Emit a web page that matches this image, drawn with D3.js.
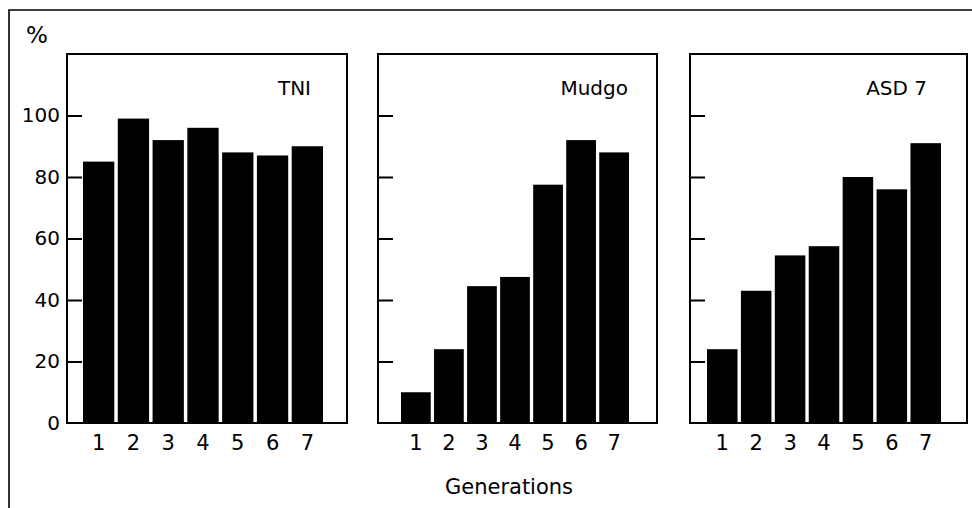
<!DOCTYPE html>
<html>
<head>
<meta charset="utf-8">
<script src="https://cdn.jsdelivr.net/npm/d3@7"></script>
<style>
  html, body { margin: 0; padding: 0; background: #fff; }
  svg { display: block; }
  text { font-family: "DejaVu Sans", sans-serif; fill: #000; }
</style>
</head>
<body>
<svg id="chart" width="972" height="508"></svg>
<script>
// ---- data ----
const generations = ["1", "2", "3", "4", "5", "6", "7"];
const varieties = ["TNI", "Mudgo", "ASD 7"];
const tniValues = [85, 99, 92, 96, 88, 87, 90];
const mudgoValues = [10, 24, 44.5, 47.5, 77.5, 92, 88];
const asd7Values = [24, 43, 54.5, 57.5, 80, 76, 91];
const yTicks = [0, 20, 40, 60, 80, 100];
const yLabel = "%";
const xLabel = "Generations";

const seriesValues = [tniValues, mudgoValues, asd7Values];

// ---- layout ----
const FONT = '"DejaVu Sans", sans-serif';
const svg = d3.select("#chart");
const plotTop = 54, plotBottom = 423;
const panels = [
  { left: 67, right: 347, barStart: 83, barEnd: 323, titleEnd: 311 },
  { left: 378, right: 657, barStart: 401, barEnd: 629, titleEnd: 628 },
  { left: 690, right: 967, barStart: 707, barEnd: 941, titleEnd: 927 }
];

const y = d3.scaleLinear().domain([0, 120]).range([plotBottom, plotTop]);

// outer frame (top & left)
svg.append("path")
  .attr("d", `M9,508 L9,10 L972,10`)
  .attr("fill", "none").attr("stroke", "#000").attr("stroke-width", 1.6);

// y label
svg.append("text").attr("x", 26).attr("y", 43)
  .attr("font-size", 23).text(yLabel);

panels.forEach((p, i) => {
  const g = svg.append("g");
  const x = d3.scaleBand().domain(generations)
    .range([p.barStart, p.barEnd]).paddingInner(0.1).paddingOuter(0);

  // bars
  g.selectAll("rect.bar").data(generations).enter().append("rect")
    .attr("class", "bar")
    .attr("x", d => x(d))
    .attr("width", x.bandwidth())
    .attr("y", (d, k) => y(seriesValues[i][k]))
    .attr("height", (d, k) => y(0) - y(seriesValues[i][k]))
    .attr("fill", "#000");

  // panel frame
  g.append("rect")
    .attr("x", p.left).attr("y", plotTop)
    .attr("width", p.right - p.left).attr("height", plotBottom - plotTop)
    .attr("fill", "none").attr("stroke", "#000").attr("stroke-width", 2);

  // y ticks (inward)
  const yAxis = d3.axisRight(y).tickValues(yTicks.filter(t => t > 0))
    .tickSize(15).tickFormat("");
  const ya = g.append("g").attr("transform", `translate(${p.left},0)`).call(yAxis);
  ya.select(".domain").remove();
  ya.selectAll("line").attr("stroke-width", 2);

  if (i === 0) {
    const yl = g.append("g").attr("transform", `translate(${p.left},0)`)
      .call(d3.axisLeft(y).tickValues(yTicks).tickSize(0).tickPadding(7));
    yl.select(".domain").remove();
    yl.selectAll("text").attr("font-size", 20).style("font-family", FONT);
  }

  // x tick labels
  const xa = g.append("g").attr("transform", `translate(0,${plotBottom})`)
    .call(d3.axisBottom(x).tickSize(0).tickPadding(12));
  xa.select(".domain").remove();
  xa.selectAll("text").attr("font-size", 21).style("font-family", FONT);

  // variety title
  g.append("text")
    .attr("x", p.titleEnd).attr("y", 95)
    .attr("text-anchor", "end").attr("font-size", 20)
    .text(varieties[i]);
});

// x label
svg.append("text").attr("x", 509).attr("y", 494)
  .attr("text-anchor", "middle").attr("font-size", 21).text(xLabel);
</script>
</body>
</html>
